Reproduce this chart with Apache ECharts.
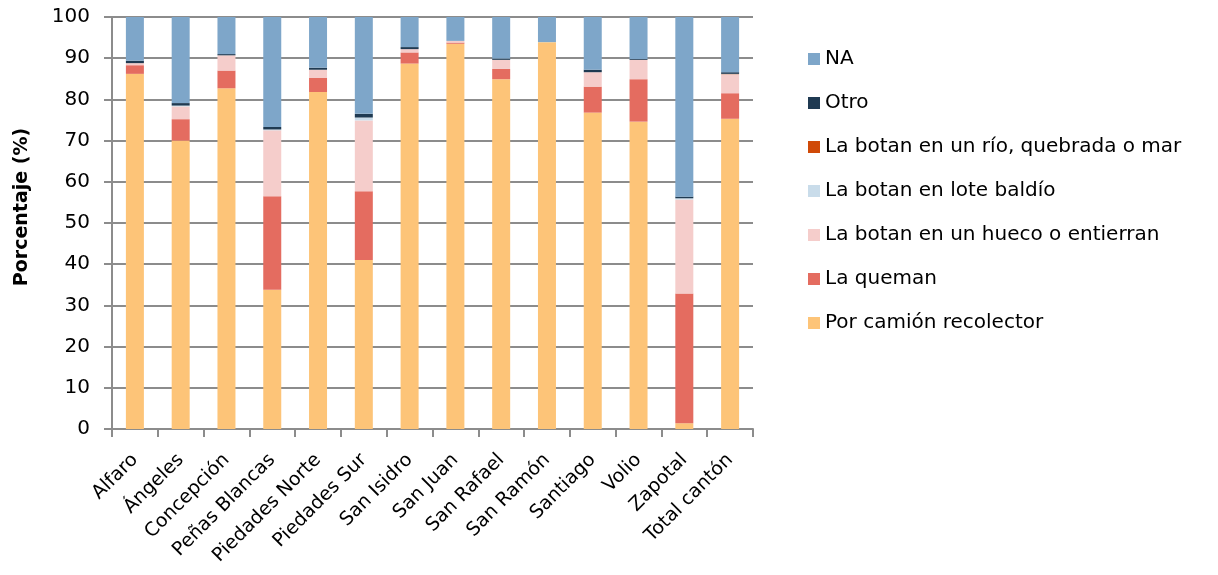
<!DOCTYPE html>
<html>
<head>
<meta charset="utf-8">
<script src="https://cdn.jsdelivr.net/npm/echarts@6/dist/echarts.min.js"></script>
<style>
  html, body { margin: 0; padding: 0; background: #ffffff; }
  #chart { width: 1218px; height: 575px; }
</style>
</head>
<body>
<div id="chart"></div>
<script>
// Distritos del cantón
const categories = ['Alfaro', 'Ángeles', 'Concepción', 'Peñas Blancas', 'Piedades Norte', 'Piedades Sur',
  'San Isidro', 'San Juan', 'San Rafael', 'San Ramón', 'Santiago', 'Volio', 'Zapotal', 'Total cantón'];

// Porcentaje de viviendas según forma de eliminar la basura
const recolector = [86.2, 70.0, 82.7, 33.8, 81.8, 41.0, 88.7, 93.5, 84.9, 93.9, 76.8, 74.6, 1.4, 75.3];
const queman     = [2.1, 5.2, 4.3, 22.7, 3.4, 16.7, 2.7, 0.3, 2.5, 0, 6.3, 10.3, 31.5, 6.2];
const hueco      = [0.5, 3.1, 3.7, 16.0, 2.0, 17.2, 0.8, 0.4, 2.2, 0, 3.5, 4.7, 22.8, 4.5];
const baldio     = [0, 0.2, 0, 0.2, 0, 0.7, 0, 0, 0, 0, 0, 0, 0.3, 0.1];
const rio        = [0, 0, 0, 0, 0, 0, 0, 0, 0, 0, 0, 0, 0, 0.1];
const otro       = [0.6, 0.6, 0.3, 0.6, 0.5, 0.9, 0.5, 0, 0.3, 0, 0.6, 0.2, 0.4, 0.4];
const na         = [10.6, 20.9, 9.0, 26.7, 12.3, 23.5, 7.3, 5.8, 10.1, 6.1, 12.8, 10.2, 43.6, 13.4];

const yTicks = { min: 0, max: 100, interval: 10 };

const FONT = 'DejaVu Sans';
const stackSeries = [
  { name: 'Por camión recolector', data: recolector, color: '#FDC478' },
  { name: 'La queman', data: queman, color: '#E46C60' },
  { name: 'La botan en un hueco o entierran', data: hueco, color: '#F5CDCB' },
  { name: 'La botan en lote baldío', data: baldio, color: '#C9DCEA' },
  { name: 'La botan en un río, quebrada o mar', data: rio, color: '#D04A08' },
  { name: 'Otro', data: otro, color: '#1F3A52' },
  { name: 'NA', data: na, color: '#7EA6C9' }
];

const chart = echarts.init(document.getElementById('chart'), null, { renderer: 'canvas' });
chart.setOption({
  animation: false,
  textStyle: { fontFamily: FONT },
  grid: { left: 112, right: 465, top: 17, bottom: 146, containLabel: false },
  legend: {
    orient: 'vertical',
    left: 803,
    top: 44,
    itemWidth: 12,
    itemHeight: 12,
    itemGap: 24,
    icon: 'rect',
    data: stackSeries.map(s => s.name).reverse(),
    textStyle: { fontFamily: FONT, fontSize: 20, color: '#000', lineHeight: 20, padding: [0, 0, 0, 0] }
  },
  xAxis: {
    type: 'category',
    data: categories,
    axisLine: { lineStyle: { color: '#8c8c8c', width: 2 } },
    axisTick: { show: true, length: 8, lineStyle: { color: '#8c8c8c', width: 2 } },
    axisLabel: { rotate: 45, fontSize: 19, color: '#000', fontFamily: FONT, margin: 28, interval: 0 }
  },
  yAxis: {
    type: 'value',
    min: yTicks.min, max: yTicks.max, interval: yTicks.interval,
    name: 'Porcentaje (%)',
    nameLocation: 'middle',
    nameGap: 80,
    nameRotate: 90,
    nameTextStyle: { fontSize: 19, fontWeight: 'bold', color: '#000', fontFamily: FONT, padding: [0, 0, 0, 32] },
    axisLine: { show: true, lineStyle: { color: '#8c8c8c', width: 2 } },
    axisTick: { show: true, length: 8, lineStyle: { color: '#8c8c8c', width: 2 } },
    axisLabel: { fontSize: 20, color: '#000', fontFamily: FONT, margin: 22 },
    splitLine: { show: true, lineStyle: { color: '#8c8c8c', width: 2 } }
  },
  series: stackSeries.map(s => ({
    name: s.name,
    type: 'bar',
    stack: 'total',
    barWidth: 18,
    data: s.data,
    itemStyle: { color: s.color }
  }))
});
</script>
</body>
</html>
